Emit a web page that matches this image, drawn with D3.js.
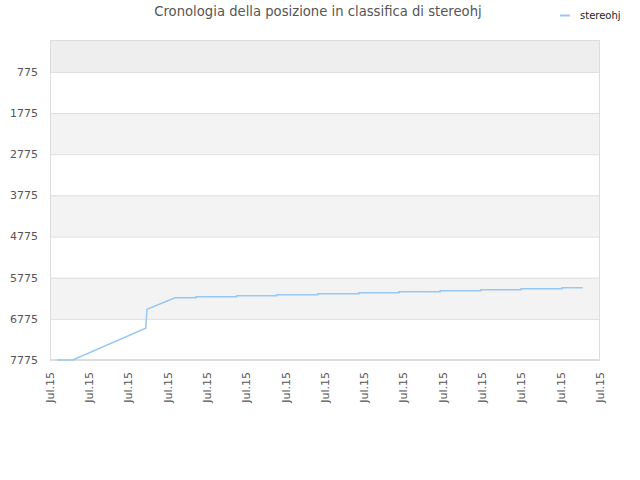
<!DOCTYPE html>
<html><head><meta charset="utf-8">
<script src="https://cdn.jsdelivr.net/npm/d3@7"></script>
<style>body{margin:0;background:#fff;} svg{display:block;font-family:"DejaVu Sans",sans-serif;}</style>
</head><body>
<svg id="c" width="640" height="480"></svg>
<script>
const title = "Cronologia della posizione in classifica di stereohj";
const seriesName = "stereohj";
const dates = ["2015-07-01T08:40","2015-07-02T03:50","2015-07-05T20:53","2015-07-05T22:34","2015-07-07T08:38",
  "2015-07-08T10:19","2015-07-08T10:19","2015-07-10T12:00","2015-07-10T12:00","2015-07-12T12:58","2015-07-12T12:58",
  "2015-07-14T15:07","2015-07-14T15:07","2015-07-16T17:31","2015-07-16T17:31","2015-07-18T18:29","2015-07-18T18:29",
  "2015-07-20T20:38","2015-07-20T20:38","2015-07-22T22:34","2015-07-22T22:34","2015-07-24T23:31","2015-07-24T23:31",
  "2015-07-27T01:41","2015-07-27T01:41","2015-07-28T02:53"];
const ranks = [7775,7775,7005,6543,6261,
  6261,6237,6237,6213,6213,6188,
  6188,6164,6164,6140,6140,6115,
  6115,6091,6091,6067,6067,6043,
  6043,6018,6018];
const yTicks = [775,1775,2775,3775,4775,5775,6775,7775];
const xTickLabel = "Jul.15";
const xStart = "2015-07-01T00:00", xEnd = "2015-07-29T00:00";

const parse = d3.timeParse("%Y-%m-%dT%H:%M");
const data = dates.map((d,i)=>({t:parse(d), v:ranks[i]}));
const svg = d3.select("#c");
const L=50,R=600,T=40,B=360;
const x = d3.scaleTime().domain([parse(xStart),parse(xEnd)]).range([L,R]);
const y = d3.scaleLinear().domain([0,7775]).range([T,B]);

// bands
const bounds = [0, ...yTicks];
for(let i=0;i<bounds.length-1;i++){
  if(i%2===0){
    svg.append("rect").attr("x",L).attr("width",R-L)
      .attr("y",y(bounds[i])).attr("height",y(bounds[i+1])-y(bounds[i]))
      .attr("fill", i===0 ? "#eeeeee" : "#f3f3f3");
  }
}
// grid
svg.selectAll(".g").data(yTicks).enter().append("line")
  .attr("x1",L).attr("x2",R).attr("y1",d=>y(d)+0.5).attr("y2",d=>y(d)+0.5)
  .attr("stroke","#dddddd");
svg.append("rect").attr("x",L+0.5).attr("y",T+0.5).attr("width",R-L-1).attr("height",B-T-1)
  .attr("fill","none").attr("stroke","#dddddd");

// y labels
svg.selectAll(".yl").data(yTicks).enter().append("text")
  .attr("x",38).attr("y",d=>y(d)).attr("dy","0.35em").attr("text-anchor","end")
  .attr("font-size",11).attr("fill","#555").text(d=>d);

// x labels
const xt = x.ticks(d3.timeDay.every(2));
svg.selectAll(".xl").data(xt).enter().append("text")
  .attr("transform",d=>`translate(${x(d)},372) rotate(-90)`)
  .attr("dy","0.35em").attr("text-anchor","end")
  .attr("font-size",11).attr("fill","#555").text(xTickLabel);

// line
svg.append("path").datum(data)
  .attr("d", d3.line().x(d=>x(d.t)).y(d=>y(d.v)))
  .attr("fill","none").attr("stroke","#99c7f3").attr("stroke-width",1.5);

// title
svg.append("text").attr("x",318).attr("y",16).attr("text-anchor","middle")
  .attr("font-size",13.2).attr("fill","#555").text(title);
// legend
svg.append("line").attr("x1",560).attr("x2",570).attr("y1",15.5).attr("y2",15.5)
  .attr("stroke","#99c7f3").attr("stroke-width",2);
svg.append("text").attr("x",580).attr("y",15).attr("dy","0.35em")
  .attr("font-size",10).attr("fill","#222").text(seriesName);
</script>
</body></html>
